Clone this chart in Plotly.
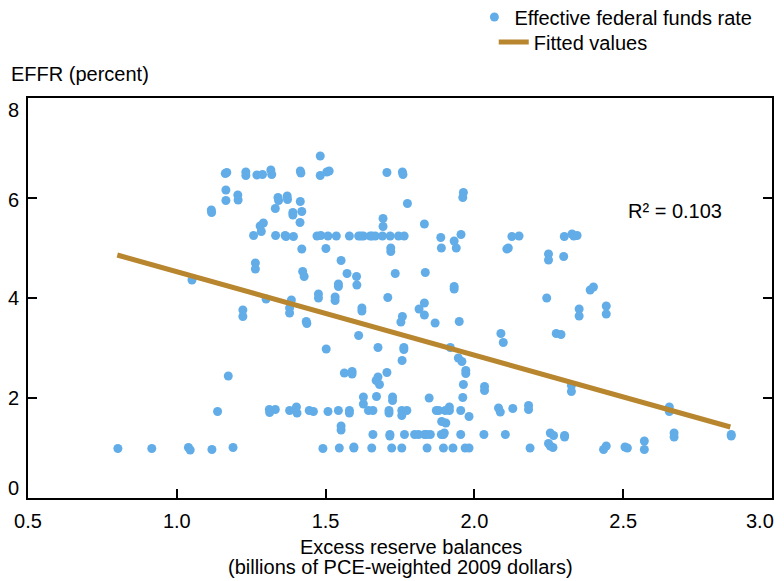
import plotly.graph_objects as go

# Scatter data: excess reserve balances (x) vs EFFR (y)
effr_x = [
    1.482, 1.168, 1.163, 1.232, 1.232, 1.269, 1.288, 1.316, 1.319, 1.415, 1.417, 1.482, 1.504, 1.512,
    1.165, 1.165, 1.205, 1.206, 1.340, 1.342, 1.371, 1.372, 1.415, 1.116, 1.117, 1.331, 1.390, 1.390,
    1.420, 1.291, 1.280, 1.284, 1.414, 1.258, 1.332, 1.364, 1.367, 1.392, 1.471, 1.484, 1.508, 1.420,
    1.501, 1.264, 1.264, 1.051, 1.423, 1.428, 1.476, 1.476, 1.385, 1.379, 1.379, 1.300, 1.222, 1.222,
    1.435, 1.437, 1.502, 1.173, 1.137, 1.311, 1.312, 1.331, 1.379, 1.402, 1.404, 1.445, 1.459, 1.508,
    0.802, 0.916, 1.039, 1.045, 1.118, 1.189, 1.491,
    1.706, 1.758, 1.760, 1.963, 1.961, 1.775, 1.693, 1.693, 1.832, 1.536, 1.580, 1.611, 1.619, 1.627,
    1.650, 1.656, 1.667, 1.691, 1.717, 1.745, 1.764, 1.887, 1.932, 1.955, 2.126, 2.150, 1.889, 1.939,
    1.719, 1.719, 2.114, 2.109, 1.552, 2.249, 2.249, 1.572, 1.604, 1.543, 1.543, 1.605, 1.734, 1.835,
    1.932, 1.932, 1.532, 1.532, 1.709, 1.622, 1.622, 1.832, 1.814, 2.243, 2.302, 2.328, 2.334, 2.345,
    2.300, 2.389, 2.400, 2.352, 2.443,
    1.832, 1.758, 1.753, 1.868, 1.949, 1.611, 2.089, 2.097, 2.275, 2.291, 1.676, 1.763, 1.763, 1.919,
    1.757, 1.946, 1.958, 1.563, 1.589, 1.589, 1.706, 1.971, 1.971, 1.676, 1.670, 1.681, 1.963, 2.034,
    2.034, 1.627, 1.627, 1.671, 1.725, 1.725, 1.848, 1.961, 1.543, 1.580, 1.580, 1.644, 1.659, 1.713,
    1.713, 1.756, 1.756, 1.773, 1.872, 1.880, 1.902, 1.916, 1.916, 1.954, 1.982, 2.081, 2.087, 2.129,
    2.182, 2.182, 1.890, 1.904, 1.552, 1.552, 1.659, 1.716, 1.716, 1.765, 1.799, 1.812, 1.832, 1.840,
    1.852, 1.889, 1.896, 1.899, 1.954, 2.032, 2.104, 2.255, 2.266, 1.546, 1.595, 1.595, 1.655, 1.722,
    1.756, 1.841, 1.896, 1.928, 1.969, 1.982, 2.187, 2.249, 2.255, 2.264, 2.352, 2.443, 2.326, 2.326,
    2.655, 2.655, 2.303, 2.303, 2.434, 2.443, 2.506, 2.514, 2.571, 2.571, 2.671, 2.671, 2.863, 2.863,
]
effr_y = [
    6.84, 6.51, 6.49, 6.52, 6.45, 6.46, 6.47, 6.56, 6.47, 6.54, 6.50, 6.45, 6.52, 6.54,
    6.16, 5.95, 6.06, 5.96, 6.01, 5.95, 6.04, 5.97, 5.93, 5.76, 5.71, 5.79, 5.71, 5.66,
    5.73, 5.50, 5.44, 5.33, 5.51, 5.25, 5.25, 5.25, 5.23, 5.23, 5.24, 5.25, 5.24, 4.98,
    4.99, 4.70, 4.58, 4.36, 4.53, 4.43, 4.08, 4.00, 3.96, 3.80, 3.70, 3.98, 3.76, 3.63,
    3.53, 3.49, 2.98, 2.44, 1.73, 1.77, 1.71, 1.77, 1.75, 1.82, 1.70, 1.75, 1.73, 1.73,
    0.99, 0.99, 1.01, 0.96, 0.97, 1.01, 0.99,
    6.51, 6.52, 6.47, 6.11, 6.01, 5.89, 5.59, 5.43, 5.48, 5.24, 5.24, 5.24, 5.24, 5.24,
    5.24, 5.24, 5.24, 5.24, 5.24, 5.24, 5.24, 5.21, 5.14, 5.27, 5.23, 5.24, 5.00, 5.00,
    5.00, 4.93, 5.00, 4.98, 4.75, 4.88, 4.76, 4.49, 4.43, 4.28, 4.23, 4.26, 4.49, 4.51,
    4.23, 4.18, 4.02, 3.95, 4.01, 3.80, 3.74, 3.90, 3.78, 4.00, 5.23, 5.28, 5.24, 5.25,
    4.83, 4.16, 4.22, 3.78, 3.84,
    3.66, 3.63, 3.52, 3.50, 3.53, 3.25, 3.29, 3.11, 3.29, 3.27, 3.01, 3.01, 2.97, 3.01,
    2.75, 2.80, 2.73, 2.50, 2.53, 2.48, 2.51, 2.55, 2.49, 2.42, 2.35, 2.27, 2.27, 2.23,
    2.15, 2.02, 1.88, 2.03, 2.02, 1.95, 2.00, 2.01, 1.75, 1.75, 1.70, 1.75, 1.75, 1.75,
    1.70, 1.75, 1.65, 1.75, 1.75, 1.75, 1.75, 1.75, 1.82, 1.75, 1.63, 1.80, 1.72, 1.79,
    1.85, 1.77, 1.53, 1.50, 1.44, 1.36, 1.27, 1.27, 1.24, 1.27, 1.27, 1.27, 1.27, 1.27,
    1.27, 1.27, 1.27, 1.30, 1.27, 1.27, 1.27, 1.30, 1.25, 1.00, 1.00, 1.02, 1.00, 1.00,
    1.00, 1.00, 1.00, 1.00, 1.00, 1.00, 1.00, 1.09, 1.04, 1.01, 3.64, 3.68, 2.25, 2.13,
    1.82, 1.73, 1.25, 1.22, 0.97, 1.04, 1.02, 1.00, 1.14, 0.97, 1.30, 1.22, 1.27, 1.24,
]

# Fitted regression line (endpoints)
fit_x = [0.80, 2.86]
fit_y = [4.86, 1.42]

x_ticks = [0.5, 1.0, 1.5, 2.0, 2.5, 3.0]
x_tick_text = ["0.5", "1.0", "1.5", "2.0", "2.5", "3.0"]
y_ticks = [0, 2, 4, 6, 8]
y_tick_text = ["0", "2", "4", "6", "8"]
y_label_shift = [10, 0, 0, -2, -12]

r2_text = "R² = 0.103"

FONT = "Liberation Sans, Arial, sans-serif"
BLUE = "#62ADE8"
GOLD = "#B8862E"

fig = go.Figure()
fig.add_trace(go.Scatter(
    x=effr_x, y=effr_y, mode="markers", name="Effective federal funds rate",
    marker=dict(color=BLUE, size=9, line=dict(width=0)), legend="legend",
))
fig.add_trace(go.Scatter(
    x=fit_x, y=fit_y, mode="lines", name="Fitted values",
    line=dict(color=GOLD, width=5), legend="legend2",
))

annotations = []
for v, t, s in zip(y_ticks, y_tick_text, y_label_shift):
    annotations.append(dict(
        x=0, xref="paper", y=v, yref="y", text=t, showarrow=False,
        xanchor="right", yanchor="middle", xshift=-7, yshift=s,
        font=dict(family=FONT, size=20, color="black"),
    ))
# last x tick label drawn right-anchored so it stays inside the page
annotations.append(dict(
    x=x_ticks[-1], xref="x", y=0, yref="paper", text=x_tick_text[-1], showarrow=False,
    xanchor="right", yanchor="top", xshift=4, yshift=-10,
    font=dict(family=FONT, size=20, color="black"),
))
annotations += [
    dict(x=-0.025, xref="paper", y=1.06, yref="paper", yanchor="middle", xanchor="left",
         text="EFFR (percent)", showarrow=False, font=dict(family=FONT, size=20, color="black")),
    dict(x=2.675, xref="x", y=5.75, yref="y", text=r2_text, showarrow=False,
         xanchor="center", yanchor="middle", font=dict(family=FONT, size=20, color="black")),
    dict(x=0.515, xref="paper", y=-0.1225, yref="paper", text="Excess reserve balances",
         showarrow=False, xanchor="center", yanchor="middle",
         font=dict(family=FONT, size=20, color="black")),
    dict(x=0.5, xref="paper", y=-0.1725, yref="paper",
         text="(billions of PCE-weighted 2009 dollars)",
         showarrow=False, xanchor="center", yanchor="middle",
         font=dict(family=FONT, size=20, color="black")),
]

# The page body adds an 8 px offset; size the figure so the plot lands where the reference has it.
fig.update_layout(
    width=776, height=573,
    margin=dict(l=20, r=12, t=90, b=83, autoexpand=False),
    paper_bgcolor="white", plot_bgcolor="white",
    font=dict(family=FONT, size=20, color="black"),
    showlegend=True,
    legend=dict(x=0.60, xanchor="left", y=1.2025, yanchor="middle",
                bgcolor="rgba(0,0,0,0)", font=dict(size=20), itemwidth=30),
    legend2=dict(x=0.626, xanchor="left", y=1.14, yanchor="middle",
                 bgcolor="rgba(0,0,0,0)", font=dict(size=20), itemwidth=30),
    annotations=annotations,
    xaxis=dict(
        range=[0.5, 3.0], tickvals=x_ticks, ticktext=x_tick_text[:-1] + [""],
        ticks="inside", ticklen=9, tickwidth=2, tickcolor="black",
        showline=True, linewidth=2, linecolor="black", mirror=True,
        showgrid=False, zeroline=False, ticklabelstandoff=4,
        tickfont=dict(family=FONT, size=20, color="black"),
    ),
    yaxis=dict(
        range=[0, 8], tickvals=y_ticks, showticklabels=False,
        ticks="inside", ticklen=9, tickwidth=2, tickcolor="black",
        showline=True, linewidth=2, linecolor="black", mirror="ticks",
        showgrid=False, zeroline=False,
    ),
)

fig.write_html("out.html")
